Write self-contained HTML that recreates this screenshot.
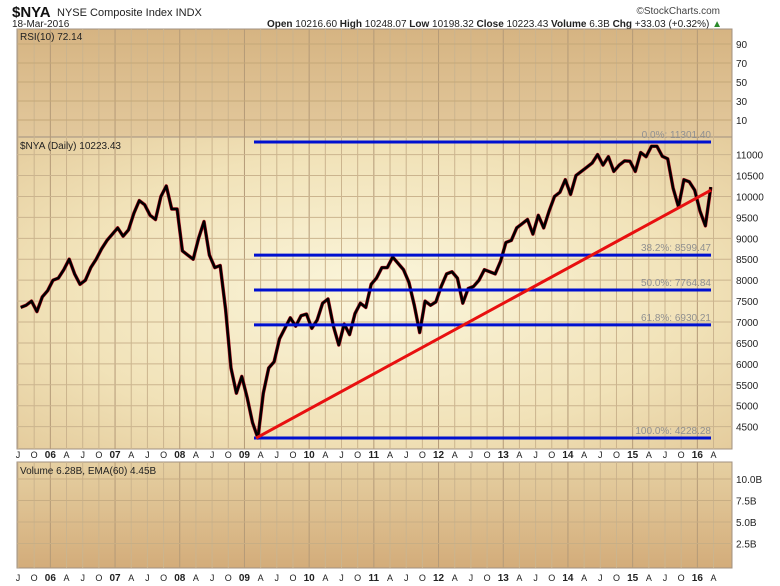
<!DOCTYPE html>
<html><head><meta charset="utf-8"><style>
body{margin:0;background:#fff;width:780px;height:586px;overflow:hidden;font-family:"Liberation Sans",sans-serif}
svg{display:block}
</style></head><body>
<svg id="c" width="780" height="586">
<defs>
<linearGradient id="gRsi" x1="0" y1="0" x2="0" y2="1"><stop offset="0" stop-color="#d6b482"/><stop offset="1" stop-color="#e2c89c"/></linearGradient>
<radialGradient id="gMain" cx="0.5" cy="0.5" r="0.75"><stop offset="0" stop-color="#fbf6dc"/><stop offset="0.6" stop-color="#f1e2b8"/><stop offset="1" stop-color="#e2c898"/></radialGradient>
<linearGradient id="gVol" x1="0" y1="0" x2="0" y2="1"><stop offset="0" stop-color="#e6d0a2"/><stop offset="1" stop-color="#d3ac7a"/></linearGradient>
</defs>
<text x="12" y="17" font-size="15" font-weight="bold" fill="#111">$NYA</text>
<text x="57" y="16" font-size="11" fill="#222">NYSE Composite Index  INDX</text>
<text x="12" y="27" font-size="10" fill="#222">18-Mar-2016</text>
<text x="720" y="14" font-size="10" fill="#444" text-anchor="end">©StockCharts.com</text>
<text x="722" y="27" font-size="10" fill="#222" text-anchor="end"><tspan font-weight="bold">Open</tspan> 10216.60 <tspan font-weight="bold">High</tspan> 10248.07 <tspan font-weight="bold">Low</tspan> 10198.32 <tspan font-weight="bold">Close</tspan> 10223.43 <tspan font-weight="bold">Volume</tspan> 6.3B <tspan font-weight="bold">Chg</tspan> +33.03 (+0.32%) <tspan fill="#2a8a2a">▲</tspan></text>
<rect x="17" y="29" width="715" height="108" fill="url(#gRsi)" stroke="#a09080"/>
<rect x="17" y="137" width="715" height="312" fill="url(#gMain)" stroke="#a09080"/>
<rect x="17" y="462" width="715" height="106" fill="url(#gVol)" stroke="#a09080"/>
<g id="grid"></g>
<g id="axes"></g>
<g id="marks"></g>
<text x="20" y="40" font-size="10" fill="#222">RSI(10) 72.14</text>
<text x="20" y="149" font-size="10" fill="#222">$NYA (Daily) 10223.43</text>
<text x="20" y="474" font-size="10" fill="#222">Volume 6.28B, EMA(60) 4.45B</text>
</svg>
<script>
const prices=[7350,7400,7500,7250,7600,7750,
8000,8050,8250,8500,8150,7900,8000,8300,8500,8750,8950,9100,
9250,9050,9200,9600,9900,9800,9550,9450,10000,10250,9700,9700,
8700,8600,8500,9000,9400,8600,8300,8350,7300,5900,5300,5700,
5200,4600,4228,5300,5900,6050,6600,6850,7100,6900,7150,7190,
6850,7050,7450,7550,6900,6450,6950,6700,7200,7450,7350,7900,
8050,8300,8300,8550,8400,8250,7950,7400,6750,7500,7400,7480,
7850,8150,8200,8050,7450,7800,7850,8000,8250,8200,8150,8450,
8900,8950,9250,9350,9450,9100,9550,9250,9650,10000,10100,10400,
10050,10500,10600,10700,10800,11000,10750,10950,10600,10750,10850,10840,
10600,11050,10950,11200,11200,10960,10900,10200,9750,10400,10350,10150,
9650,9300,10223];
const priceTicks=[11000,10500,10000,9500,9000,8500,8000,7500,7000,6500,6000,5500,5000,4500];
const rsiTicks=[90,70,50,30,10];
const volTicks=[10,7.5,5,2.5];
const volTickLabels=["10.0B","7.5B","5.0B","2.5B"];
const fibLevels=[11301.40,8599.47,7764.84,6930.21,4228.28];
const fibLabels=["0.0%","38.2%","50.0%","61.8%","100.0%"];
const quarterLabels=["J","O","06","A","J","O","07","A","J","O","08","A","J","O","09","A","J","O","10","A","J","O","11","A","J","O","12","A","J","O","13","A","J","O","14","A","J","O","15","A","J","O","16","A"];
const trendStart=[2009.18,4228.28], trendEnd=[2016.21,10150];

const NS="http://www.w3.org/2000/svg";
const xT=t=>18+(t-2005.5)*64.7;
const yP=v=>142+(11301.4-v)*0.04185;
const yR=v=>120-(v-10)*0.95;
const yV=v=>565-v*8.6;
function mk(tag,attrs,parent,txt){const e=document.createElementNS(NS,tag);for(const k in attrs)e.setAttribute(k,attrs[k]);if(txt!=null)e.textContent=txt;document.getElementById(parent).appendChild(e);return e;}

quarterLabels.forEach((l,i)=>{
  const x=xT(2005.5+i*0.25);
  const big=l.length===2;
  [[29,137],[137,449],[462,568]].forEach(([a,b])=>{
    const g=mk('line',{x1:x,x2:x,y1:a,y2:b,stroke:big?'#b49a78':'#cbb48e','stroke-width':1},'grid');
    
    
  });
  [458,581].forEach(y=>{
    const t=mk('text',{x:x,y:y,'font-size':big?10:9,'font-weight':big?'bold':'normal','text-anchor':'middle',fill:'#222'},'axes',l);
    
    
  });
});
priceTicks.forEach(v=>{
  const y=yP(v);
  const g=mk('line',{x1:17,x2:732,y1:y,y2:y,stroke:'#cbb48e'},'grid');
  
  
  const t=mk('text',{x:736,y:y+4,'font-size':10,fill:'#222'},'axes',v);
  
  
});
rsiTicks.forEach(v=>{
  const y=yR(v);
  const g=mk('line',{x1:17,x2:732,y1:y,y2:y,stroke:'#c4a878'},'grid');
  
  
  const t=mk('text',{x:736,y:y+4,'font-size':10,fill:'#222'},'axes',v);
  
  
});
volTicks.forEach((v,i)=>{
  const y=yV(v);
  const g=mk('line',{x1:17,x2:732,y1:y,y2:y,stroke:'#c8ae84'},'grid');
  
  
  const t=mk('text',{x:736,y:y+4,'font-size':10,fill:'#222'},'axes',volTickLabels[i]);
  
  
});
// price series
const pts=prices.map((v,i)=>xT(2005.5+(i+0.5)/12).toFixed(1)+','+yP(v).toFixed(1)).join(' ');
const pr=mk('polyline',{points:pts,fill:'none',stroke:'#b01020','stroke-width':3.5,'stroke-linejoin':'round'},'marks');


const pl=mk('polyline',{points:pts,fill:'none',stroke:'#000','stroke-width':2.5,'stroke-linejoin':'round'},'marks');


// fib lines
fibLevels.forEach((v,i)=>{
  const y=yP(v);
  const l=mk('line',{x1:254,x2:711,y1:y,y2:y,stroke:'#0010d0','stroke-width':3},'marks');
  
  
  const t=mk('text',{x:711,y:y-4,'font-size':10,fill:'#909090','text-anchor':'end'},'marks',fibLabels[i]+': '+v.toFixed(2));
  
  
});
const tl=mk('line',{x1:xT(trendStart[0]),y1:yP(trendStart[1]),x2:xT(trendEnd[0]),y2:yP(trendEnd[1]),stroke:'#e81010','stroke-width':3},'marks');


</script>
</body></html>
